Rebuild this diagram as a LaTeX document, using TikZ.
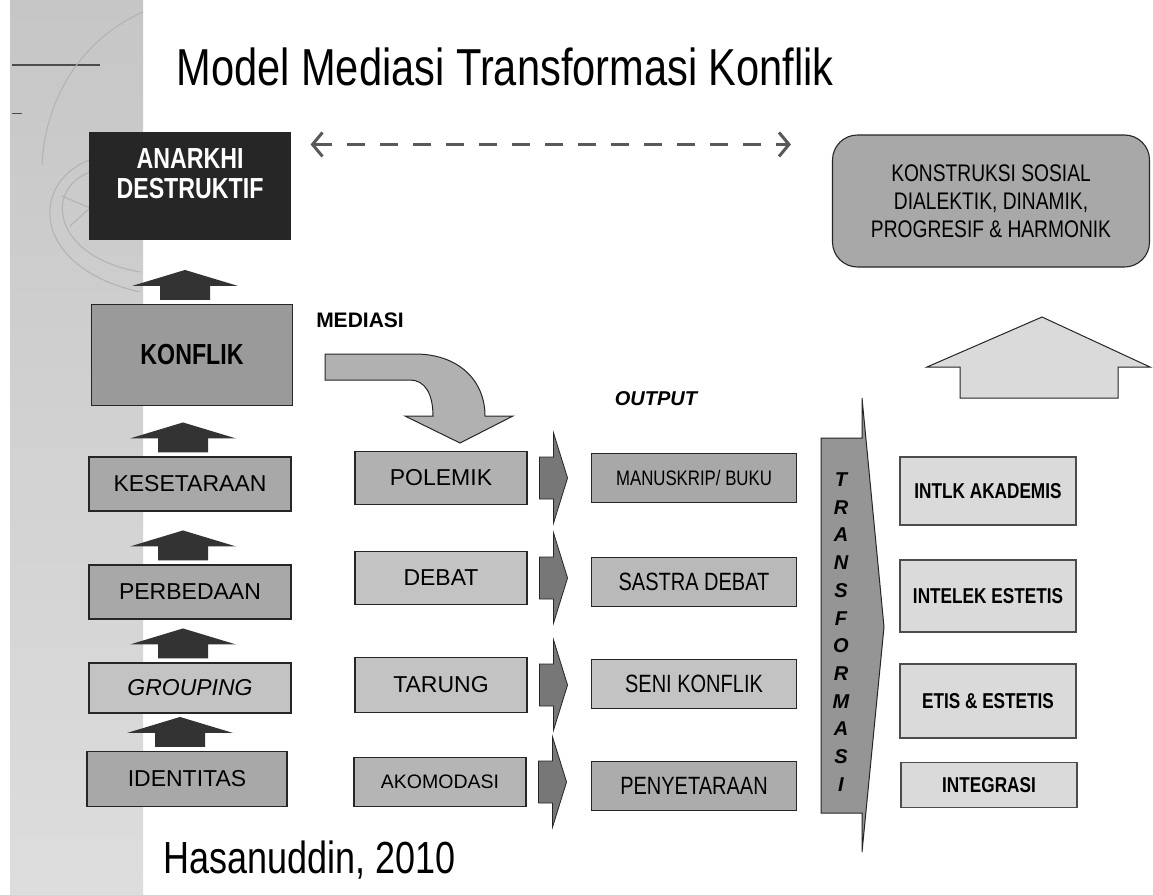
\documentclass[tikz,border=0pt]{standalone}
\usepackage{fontspec}
\setmainfont{Liberation Sans}
\newfontfamily\narrowfont[FakeStretch=0.8]{Liberation Sans}
\usetikzlibrary{arrows.meta, calc}
\definecolor{striptop}{HTML}{C6C6C6}
\definecolor{stripbottom}{HTML}{DDDDDD}
\definecolor{anarkhigray}{HTML}{262626}
\definecolor{konflikgray}{HTML}{9A9A9A}
\definecolor{midgray}{HTML}{A8A8A8}
\definecolor{lightgray}{HTML}{C3C3C3}
\definecolor{resgray}{HTML}{DADADA}
\definecolor{transgray}{HTML}{959595}
\definecolor{stepgray}{HTML}{333333}
\definecolor{sidegray}{HTML}{777777}

% block arrow pointing up, sitting on top of a box
\newcommand{\stepup}[1]{%
  \fill[steparrow] ([xshift=-32pt,yshift=4pt]#1.north) -- ++(0pt,14pt)
    -- ++(-28pt,0pt) -- ++(53pt,16pt) -- ++(53pt,-16pt) -- ++(-28pt,0pt)
    -- ++(0pt,-14pt) -- cycle;}
% short block arrow pointing right, beside a box
\newcommand{\sidestep}[1]{%
  \filldraw[sidearrow] ([xshift=12pt,yshift=21pt]#1.east) -- ++(14pt,0pt)
    -- ++(0pt,24pt) -- ++(14pt,-45pt) -- ++(-14pt,-45pt) -- ++(0pt,24pt)
    -- ++(-14pt,0pt) -- cycle;}

\begin{document}
\begin{tikzpicture}[x=1pt, y=-1pt,
    box/.style={draw=black!85, line width=1.1pt, inner sep=0pt, align=center},
    lvlbox/.style={box, fill=midgray, minimum width=202pt, minimum height=54pt,
      font=\fontsize{23}{26}\selectfont},
    medbox/.style={box, minimum width=172pt, minimum height=53pt,
      font=\fontsize{23}{26}\selectfont},
    outbox/.style={box, minimum width=205pt, minimum height=49pt,
      font=\narrowfont\fontsize{25}{28}\selectfont},
    resbox/.style={box, fill=resgray, draw=black!70, minimum width=176pt,
      font=\narrowfont\bfseries\fontsize{21.5}{24}\selectfont},
    steparrow/.style={fill=stepgray},
    sidearrow/.style={fill=sidegray, draw=black!85, line width=0.8pt},
    dasharrow/.style={black!65, line width=3pt, dash pattern=on 18pt off 15pt,
      {Straight Barb[length=10pt,width=24pt]}-{Straight Barb[length=10pt,width=24pt]}},
    >=Latex
  ]
  \useasboundingbox (0,0) rectangle (1153,894);
  \fill[white] (0,0) rectangle (1153,894);

  % left decoration strip
  \shade[top color=striptop, bottom color=stripbottom] (10,0) rectangle (143,894);
  \draw[black!70, line width=1.2pt] (12,65) -- (100,65);
  \draw[black!70, line width=1pt] (12,113) -- (22,113);
  \draw[gray!60, line width=1pt] (143,12) .. controls (80,40) and (45,100) .. (42,165);
  \draw[gray!60, line width=1pt] (110,155) .. controls (30,165) and (20,265) .. (140,292);
  \draw[gray!60, line width=1pt] (98,170) .. controls (45,180) and (45,255) .. (140,272);
  \draw[gray!60, line width=1pt] (62,196) -- (90,208) -- (70,226);

  % title and source
  \node[anchor=base west, font=\narrowfont\fontsize{52}{60}\selectfont] (title)
    at (173,85) {Model Mediasi Transformasi Konflik};
  \node[anchor=base west, font=\narrowfont\fontsize{45}{52}\selectfont] (author)
    at (160,873) {Hasanuddin, 2010};

  % left column
  \node[box, fill=anarkhigray, text=white, minimum width=200pt, minimum height=106pt,
    text depth=24pt, font=\narrowfont\bfseries\fontsize{29}{30}\selectfont] (anarkhi)
    at (190,186) {ANARKHI\\DESTRUKTIF};
  \node[lvlbox, fill=konflikgray, minimum width=201pt, minimum height=101pt,
    font=\narrowfont\bfseries\fontsize{29}{32}\selectfont] (konflik) at (192,355) {KONFLIK};
  \node[lvlbox] (kesetaraan) at (190,484) {KESETARAAN};
  \node[lvlbox] (perbedaan) at (190,592) {PERBEDAAN};
  \node[lvlbox, fill=lightgray, minimum height=50pt] (grouping) at (190,688) {\itshape GROUPING};
  \node[lvlbox, minimum width=200pt, minimum height=55pt] (identitas) at (187,779) {IDENTITAS};
  \stepup{konflik}
  \stepup{kesetaraan}
  \stepup{perbedaan}
  \stepup{grouping}
  \stepup{identitas}

  % mediasi column
  \node[font=\bfseries\fontsize{21}{24}\selectfont] (mediasi) at (360,320) {MEDIASI};
  \filldraw[fill=midgray!90, draw=black!85, line width=1pt]
    (325,354) -- (415,354) .. controls (458,354) and (485,380) .. (485,416)
    -- (513,416) -- (460,443) -- (405,416) -- (433,416)
    .. controls (433,394) and (425,380) .. (410,380) -- (325,380) -- cycle;
  \node[medbox, fill=midgray!90] (polemik) at (441,478) {POLEMIK};
  \node[medbox, fill=lightgray] (debat) at (441,578) {DEBAT};
  \node[medbox, fill=lightgray, minimum height=55pt] (tarung) at (441,685) {TARUNG};
  \node[medbox, fill=midgray!85, minimum height=49pt,
    font=\fontsize{19.5}{22}\selectfont] (akomodasi) at (440,782) {AKOMODASI};
  \sidestep{polemik}
  \sidestep{debat}
  \sidestep{tarung}
  \sidestep{akomodasi}

  % output column
  \node[font=\bfseries\itshape\fontsize{20}{24}\selectfont] (output) at (656,399) {OUTPUT};
  \node[outbox, fill=midgray, font=\narrowfont\fontsize{21}{24}\selectfont] (manuskrip)
    at (694,478) {MANUSKRIP/ BUKU};
  \node[outbox, fill=midgray!80] (sastra) at (694,582) {SASTRA DEBAT};
  \node[outbox, fill=lightgray] (seni) at (694,684) {SENI KONFLIK};
  \node[outbox, fill=midgray!95] (penyetaraan) at (694,786) {PENYETARAAN};

  % transformation arrow
  \filldraw[fill=transgray, draw=black!85, line width=1pt]
    (821,438) -- (862,438) -- (862,398) -- (884,627) -- (862,852) -- (862,813)
    -- (821,813) -- cycle;
  \node[align=center, font=\bfseries\itshape\fontsize{20}{27.7}\selectfont] (trans)
    at (841,632) {T\\R\\A\\N\\S\\F\\O\\R\\M\\A\\S\\I};

  % results column
  \node[resbox, minimum height=68pt] (intlk) at (988,491) {INTLK  AKADEMIS};
  \node[resbox, minimum height=72pt] (intelek) at (988,596) {INTELEK  ESTETIS};
  \node[resbox, minimum height=74pt] (etis) at (988,701) {ETIS \& ESTETIS};
  \node[resbox, minimum height=45pt] (integrasi) at (989,785) {INTEGRASI};

  % goal
  \node[box, fill=midgray, rounded corners=25pt, minimum width=317pt, minimum height=132pt,
    font=\narrowfont\fontsize{24}{28}\selectfont] (konstruksi)
    at (991,201) {KONSTRUKSI SOSIAL\\DIALEKTIK, DINAMIK,\\PROGRESIF \& HARMONIK};
  \filldraw[fill=resgray, draw=black!85, line width=1pt]
    (960,398) -- (960,367) -- (927,367) -- (1042,317) -- (1150,367) -- (1118,367)
    -- (1118,398) -- cycle;
  \draw[dasharrow] ($(anarkhi.north east)+(20pt,-12pt)$)
    -- ($(konstruksi.west |- anarkhi.north east)+(-41pt,-12pt)$);
\end{tikzpicture}
\end{document}
